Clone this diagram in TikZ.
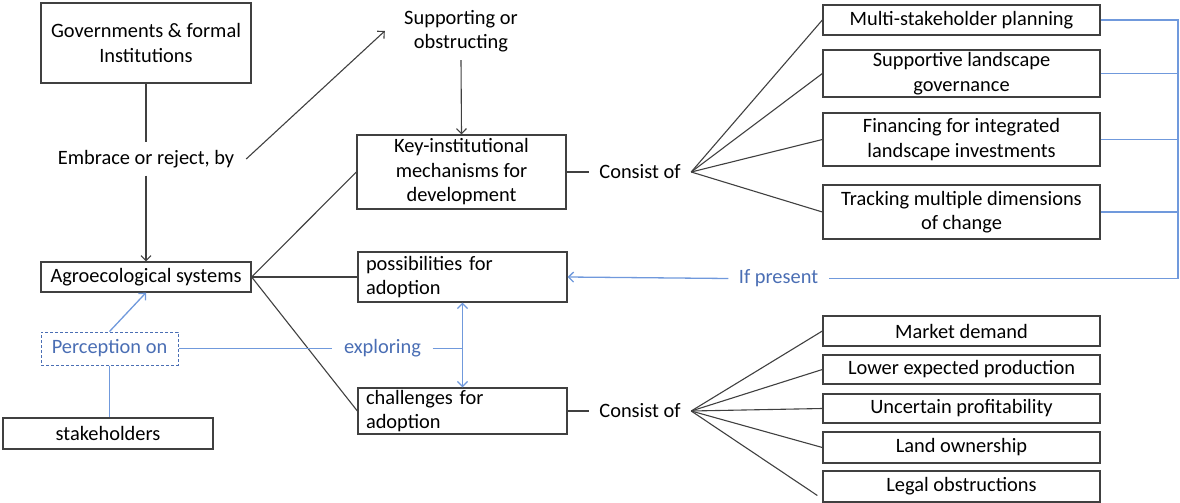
\documentclass[tikz,border=0pt]{standalone}
\usepackage{fontspec}
\setmainfont{Carlito}
\usetikzlibrary{arrows.meta}
\definecolor{dk}{HTML}{404040}
\definecolor{bl}{HTML}{7099DC}
\definecolor{bt}{HTML}{4A6EB4}
\begin{document}
\begin{tikzpicture}[x=1pt,y=-1pt,
  font=\fontsize{20.4}{24.5}\selectfont,
  box/.style={draw=dk, line width=1.3pt, rectangle, inner sep=0pt, align=center},
  lbox/.style={box, align=left, inner xsep=8pt},
  lbl/.style={inner sep=0pt, align=center},
  ln/.style={draw=dk, line width=1.1pt},
  bln/.style={draw=bl, line width=1.3pt},
  arr/.style={-{Straight Barb[length=5pt,width=10pt]}},
  darr/.style={{Straight Barb[length=5pt,width=10pt]}-{Straight Barb[length=5pt,width=10pt]}}]
\useasboundingbox (0,0) rectangle (1180,503);

% left column
\node[box, minimum width=210, minimum height=80] (gov) at (146,43) {Governments \& formal\\Institutions};
\node[lbl, minimum width=200, minimum height=33] (emb) at (146,159) {Embrace or reject, by};
\node[box, minimum width=210, minimum height=30] (agro) at (146,277) {Agroecological systems};
\node[box, draw=bt, dashed, dash pattern=on 3pt off 2pt, line width=1pt, text=bt, minimum width=137, minimum height=33] (perc) at (109.5,348.5) {Perception on};
\node[box, minimum width=210, minimum height=31] (stk) at (108,433.5) {stakeholders};

% middle column
\node[lbl, minimum width=152, minimum height=58] (sup) at (461,31) {Supporting or\\obstructing};
\node[box, minimum width=209, minimum height=74] (key) at (461.5,172) {Key-institutional\\mechanisms for\\development};
\node[lbox, text width=193, minimum height=50] (poss) at (462.5,277) {possibilities for\\adoption};
\node[lbox, text width=193, minimum height=46] (chal) at (462.5,411) {challenges for\\adoption};
\node[lbl, minimum width=100, minimum height=24, text=bt] (expl) at (382.5,348.5) {exploring};

\node[lbl, minimum width=102, minimum height=24] (cons1) at (640,172) {Consist of};
\node[lbl, minimum width=102, minimum height=24] (cons2) at (640,411) {Consist of};
\node[lbl, minimum width=100, minimum height=24, text=bt] (ifp) at (778.5,278.5) {If present};

% right column
\node[box, minimum width=277, minimum height=30] (m1) at (961.5,20) {Multi-stakeholder planning};
\node[box, minimum width=277, minimum height=47] (m2) at (961.5,73.5) {Supportive landscape\\governance};
\node[box, minimum width=277, minimum height=53] (m3) at (961.5,139.5) {Financing for integrated\\landscape investments};
\node[box, minimum width=277, minimum height=54] (m4) at (961.5,212) {Tracking multiple dimensions\\of change};

\node[box, minimum width=277, minimum height=30] (c1) at (961.5,331) {Market demand};
\node[box, minimum width=277, minimum height=29] (c2) at (961.5,369.5) {Lower expected production};
\node[box, minimum width=277, minimum height=29] (c3) at (961.5,408.5) {Uncertain profitability};
\node[box, minimum width=277, minimum height=31] (c4) at (961.5,447.5) {Land ownership};
\node[box, minimum width=277, minimum height=31] (c5) at (961.5,486.5) {Legal obstructions};

\coordinate (rt) at (1178,0);

% black connectors
\draw[ln] (gov.south) -- (emb.north);
\draw[ln, arr] (emb.south) -- (agro.north);
\draw[ln, arr] (emb.east) -- (sup.west);
\draw[ln, arr] (sup.south) -- (key.north);
\draw[ln] (agro.east) -- (key.west);
\draw[ln] (agro.east) -- (poss.west);
\draw[ln] (agro.east) -- (chal.west);
\draw[ln] (key.east) -- (cons1.west);
\draw[ln] (chal.east) -- (cons2.west);
\foreach \b in {m1,m2,m3,m4} \draw[ln] (cons1.east) -- (\b.west);
\foreach \b in {c1,c2,c3,c4} \draw[ln] (cons2.east) -- (\b.west);
\draw[ln] (cons2.east) -- ([xshift=-5pt,yshift=-9pt]c5.west);

% blue connectors
\draw[bln, arr] (perc.north) -- (agro.south);
\draw[bln] (perc.south) -- (perc.south |- stk.north);
\draw[bln] (perc.east) -- (expl.west);
\draw[bln] (expl.east) -- (expl.east -| poss.south);
\draw[bln, darr] (poss.south) -- (chal.north);
\draw[bln] (m1.east) -| (rt |- ifp.east) -- (ifp.east);
\foreach \b in {m2,m3,m4} \draw[bln] (\b.east) -- (\b.east -| rt);
\draw[bln, arr] (ifp.west) -- (poss.east);
\end{tikzpicture}
\end{document}
